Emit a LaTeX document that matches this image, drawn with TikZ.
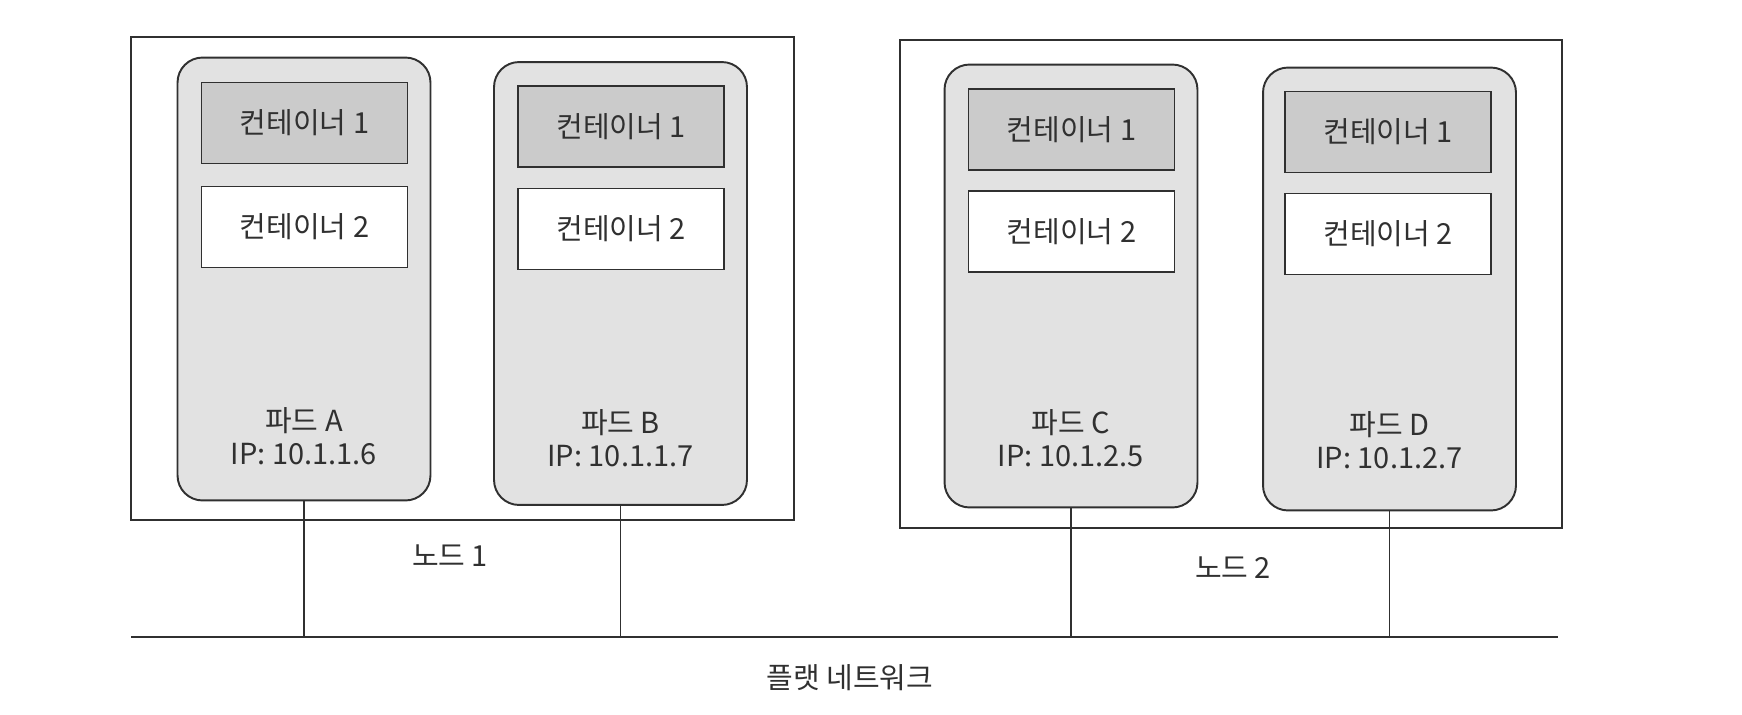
\documentclass[tikz,border=0pt]{standalone}
\usepackage{fontspec}
\setmainfont{Noto Sans CJK KR}
\definecolor{podgray}{HTML}{E2E2E2}
\definecolor{cgray}{HTML}{CBCBCB}
\definecolor{ink}{HTML}{303030}
\begin{document}
\begin{tikzpicture}[x=0.02cm,y=-0.02cm,
  every node/.style={font=\fontsize{16.5}{19}\selectfont, text=ink},
  nodebox/.style={draw=ink, line width=0.9pt, rectangle, inner sep=0},
  pod/.style={draw=ink, line width=1.1pt, fill=podgray, rounded corners=0.5cm,
    minimum width=5.06cm, minimum height=8.86cm, inner sep=0},
  cdark/.style={draw=ink, line width=1.1pt, fill=cgray,
    minimum width=4.12cm, minimum height=1.62cm, inner sep=0},
  clight/.style={cdark, fill=white},
  lbl/.style={align=center, inner sep=0},
  wire/.style={draw=ink, line width=0.7pt},
  net/.style={draw=ink, line width=1.6pt},
]
\useasboundingbox (0,0) rectangle (1742,714);
% node boxes
\node[nodebox, minimum width=13.26cm, minimum height=9.66cm] (n1) at (462.5,278.5) {};
\node[nodebox, minimum width=13.24cm, minimum height=9.76cm] (n2) at (1231,284) {};
% pods
\node[pod] (pA) at (304,279) {};
\node[pod] (pB) at (620.5,283.5) {};
\node[pod] (pC) at (1071,286) {};
\node[pod] (pD) at (1389.5,289) {};
% containers
\node[cdark] (a1) at (304.5,123) {컨테이너 1};
\node[clight] (a2) at (304.5,227) {컨테이너 2};
\node[cdark] (b1) at (621,126.5) {컨테이너 1};
\node[clight] (b2) at (621,229) {컨테이너 2};
\node[cdark] (c1) at (1071.5,129.5) {컨테이너 1};
\node[clight] (c2) at (1071.5,231.5) {컨테이너 2};
\node[cdark] (d1) at (1388,132) {컨테이너 1};
\node[clight] (d2) at (1388,234) {컨테이너 2};
% pod labels
\node[lbl] (lA) at (304,436) {파드 A\\IP: 10.1.1.6};
\node[lbl] (lB) at (620.5,438) {파드 B\\IP: 10.1.1.7};
\node[lbl] (lC) at (1071,438) {파드 C\\IP: 10.1.2.5};
\node[lbl] (lD) at (1389.5,440) {파드 D\\IP: 10.1.2.7};
% node labels
\node[lbl] (t1) at (450,556) {노드 1};
\node[lbl] (t2) at (1233,568) {노드 2};
\node[lbl] (tn) at (850,678) {플랫 네트워크};
% network
\coordinate (netL) at (131,637);
\coordinate (netR) at (1558,637);
\draw[net] (netL) -- (netR);
\draw[wire] (pA.south) -- (pA.south |- netL);
\draw[wire] (pB.south) -- (pB.south |- netL);
\draw[wire] (pC.south) -- (pC.south |- netL);
\draw[wire] (pD.south) -- (pD.south |- netL);
\end{tikzpicture}
\end{document}
